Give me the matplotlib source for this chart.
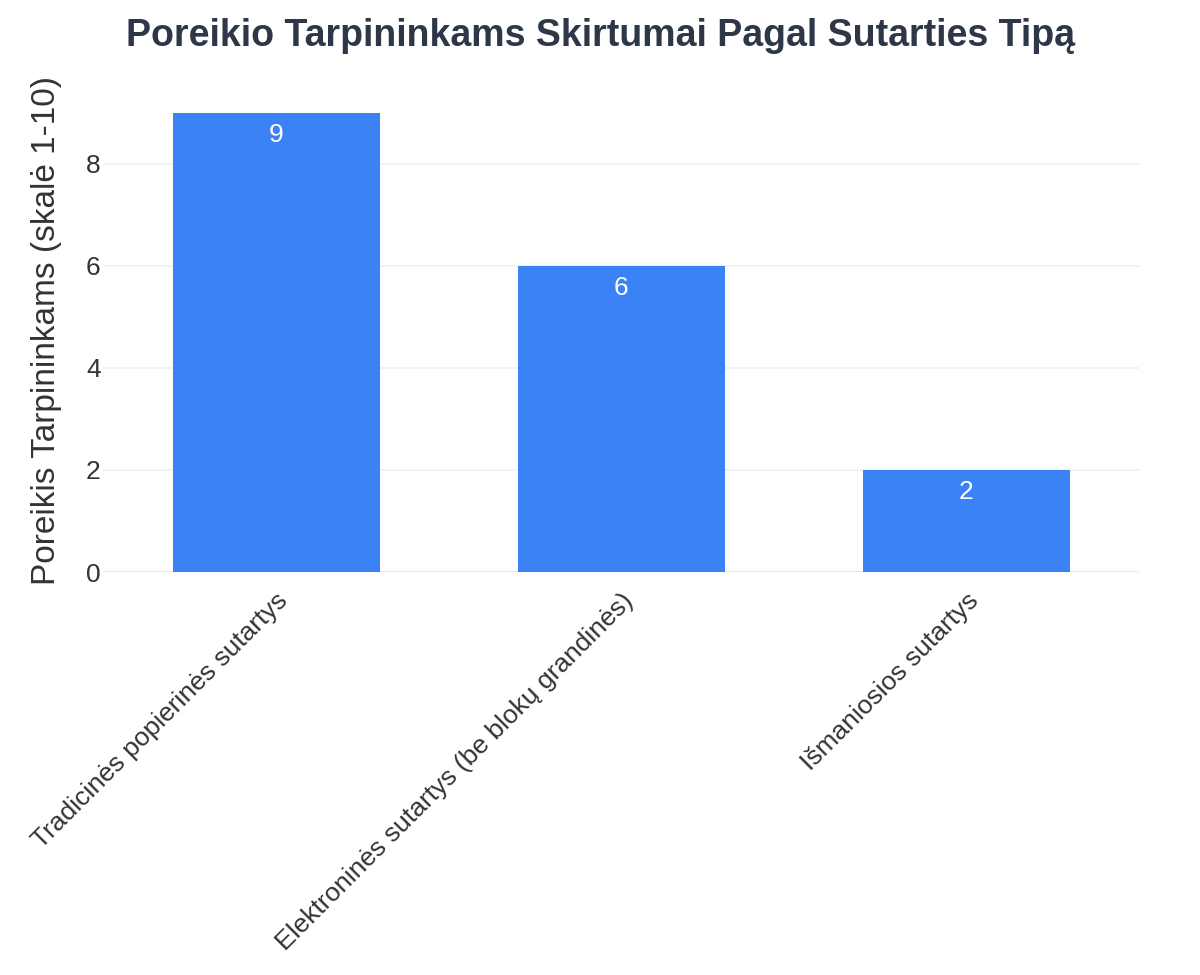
import matplotlib
matplotlib.use('Agg')
import matplotlib.pyplot as plt

# chart data
categories = ['Tradicinės popierinės sutartys',
              'Elektroninės sutartys (be blokų grandinės)',
              'Išmaniosios sutartys']
values = [9, 6, 2]
y_ticks = [0, 2, 4, 6, 8]

Title = 'Poreikio Tarpininkams Skirtumai Pagal Sutarties Tipą'
y_label = 'Poreikis Tarpininkams (skalė 1-10)'

plt.rcParams['font.family'] = ['Liberation Sans', 'DejaVu Sans']

fig = plt.figure(figsize=(12, 9.75), dpi=100)
W, H = 1200, 975
# plot area in pixels (left, right, bottom zero, top)
L, R, B, T = 103.5, 1138.5, 572, 89
ax = fig.add_axes([L / W, (H - B) / H, (R - L) / W, (B - T) / H])

x = list(range(len(categories)))
bars = ax.bar(x, values, width=0.6, color='#3b82f6', zorder=3)

ax.set_xlim(-0.5, len(categories) - 0.5)
ax.set_ylim(0, 9.47)

# value labels inside bar tops
for xi, v in zip(x, values):
    ax.annotate(str(v), (xi, v), xytext=(0, -7), textcoords='offset points',
                ha='center', va='top', color='white', fontsize=19, zorder=4)

# grid
ax.set_yticks(y_ticks)
ax.yaxis.grid(True, color='#eef0f4', linewidth=1.2, zorder=0)
ax.axhline(0, color='#e2e6ee', linewidth=2, zorder=2)
for pos in ['right', 'top', 'bottom', 'left']:
    ax.spines[pos].set_visible(False)
ax.tick_params(axis='both', which='both', length=0)
ax.tick_params(axis='y', labelsize=19, labelcolor='#333333', pad=2)

ax.set_xticks(x)
ax.set_xticklabels(categories, rotation=45, ha='right', va='top',
                   rotation_mode='anchor', fontsize=19, color='#333333')
ax.tick_params(axis='x', pad=12)

ax.set_ylabel(y_label, fontsize=24, color='#333333', labelpad=17)

fig.text(0.5, 1 - 36 / H, Title, ha='center', va='center', fontsize=27,
         fontweight='bold', color='#2d3748')

plt.savefig('out.png', dpi=100)
